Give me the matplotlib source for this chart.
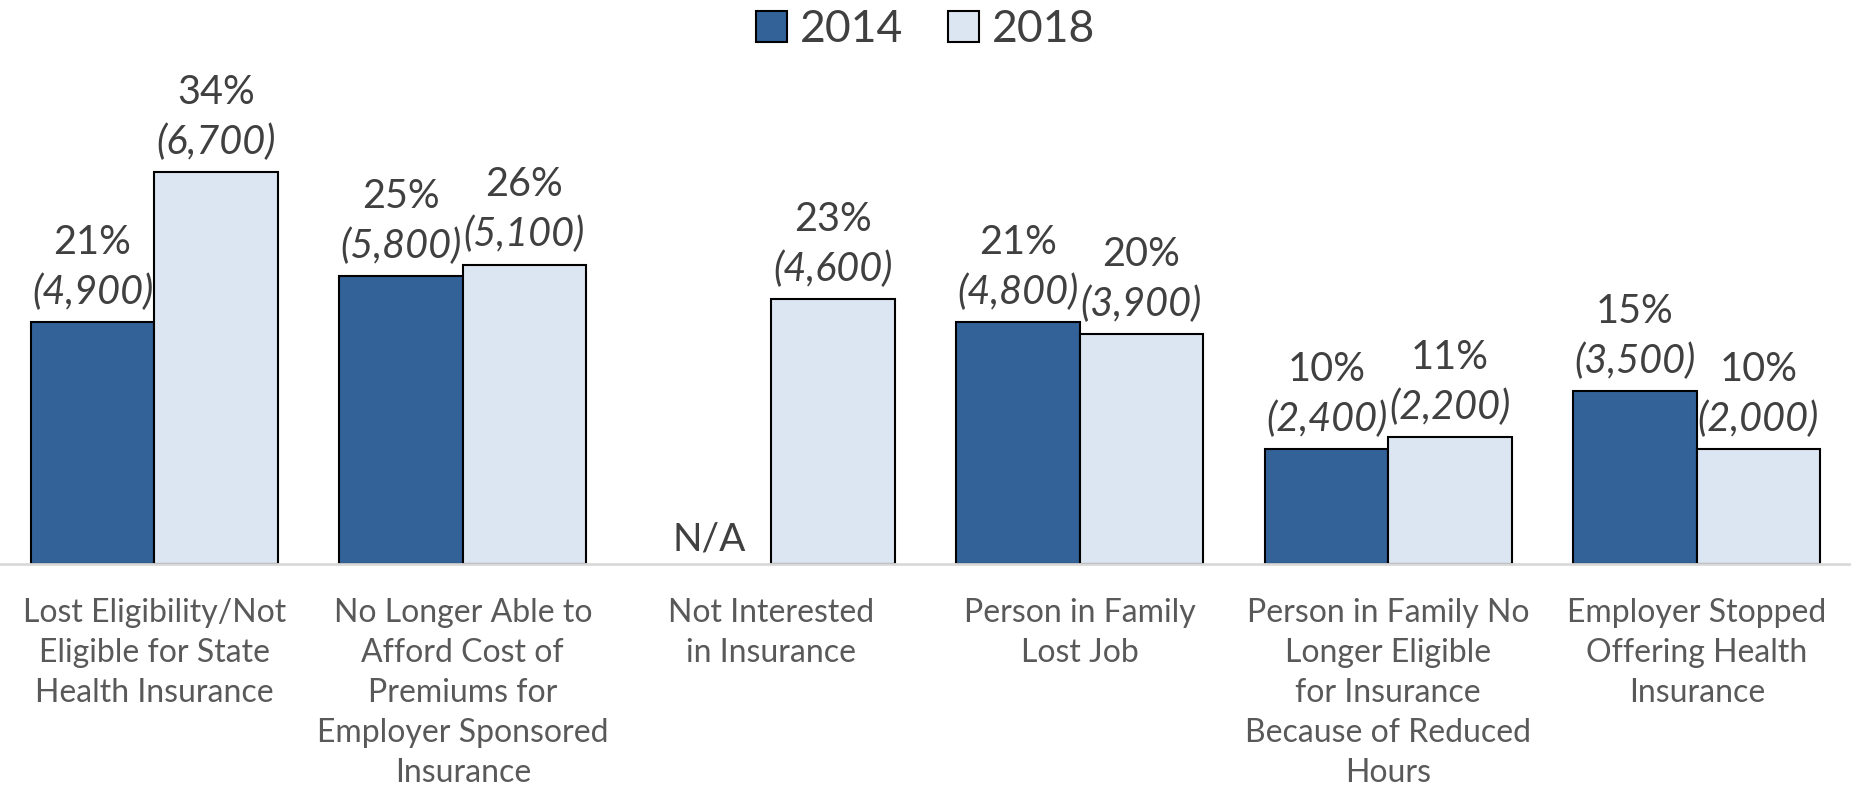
import numpy as np
import matplotlib.pyplot as plt

plt.rcParams['font.family'] = ['Lato', 'DejaVu Sans']

# Datos del gráfico
categorias = [
    "Lost Eligibility/Not\nEligible for State\nHealth Insurance",
    "No Longer Able to\nAfford Cost of\nPremiums for\nEmployer Sponsored\nInsurance",
    "Not Interested\nin Insurance",
    "Person in Family\nLost Job",
    "Person in Family No\nLonger Eligible\nfor Insurance\nBecause of Reduced\nHours",
    "Employer Stopped\nOffering Health\nInsurance",
]
pct_2014 = [21, 25, None, 21, 10, 15]
cnt_2014 = [4900, 5800, None, 4800, 2400, 3500]
pct_2018 = [34, 26, 23, 20, 11, 10]
cnt_2018 = [6700, 5100, 4600, 3900, 2200, 2000]

color_2014 = '#336299'
color_2018 = '#DCE6F2'
texto = '#404040'

fig = plt.figure(figsize=(18.51, 7.85), dpi=100)
ax = fig.add_axes([0, 0.2812, 1, 0.6388])

x = np.arange(len(categorias))
ancho = 0.4

def barras(pcts, cnts, desplaz, color, etiqueta):
    xs = [xi + desplaz for xi, p in zip(x, pcts) if p is not None]
    hs = [p for p in pcts if p is not None]
    ax.bar(xs, hs, width=ancho, color=color, edgecolor='black', linewidth=1.5, label=etiqueta)
    for xi, p, c in zip(x, pcts, cnts):
        if p is None:
            ax.text(xi + desplaz, 0.6, "N/A", ha='center', va='bottom', fontsize=28, color=texto)
            continue
        ax.annotate(f"({c:,})", (xi + desplaz, p), xytext=(0, 8), textcoords='offset points',
                    ha='center', va='bottom', fontsize=28.5, style='italic', color=texto)
        ax.annotate(f"{p}%", (xi + desplaz, p), xytext=(0, 44), textcoords='offset points',
                    ha='center', va='bottom', fontsize=28.5, color=texto)

barras(pct_2014, cnt_2014, -ancho / 2, color_2014, '2014')
barras(pct_2018, cnt_2018, ancho / 2, color_2018, '2018')

ax.set_xlim(-0.5, len(categorias) - 0.5)
ax.set_ylim(0, 43.5)
ax.set_yticks([])
ax.set_xticks(x)
ax.set_xticklabels(categorias, fontsize=23, color='#595959', linespacing=1.42)
ax.tick_params(axis='x', length=0, pad=24)
for lado in ['top', 'right', 'left']:
    ax.spines[lado].set_visible(False)
ax.spines['bottom'].set_color('#D9D9D9')
ax.spines['bottom'].set_linewidth(2)

fig.legend(loc='center', bbox_to_anchor=(0.5, 0.962), ncol=2, frameon=False,
           fontsize=32, handlelength=0.7, handleheight=0.7, handletextpad=0.3,
           columnspacing=1.0, labelcolor=texto)

fig.savefig('out.png', dpi=100)
